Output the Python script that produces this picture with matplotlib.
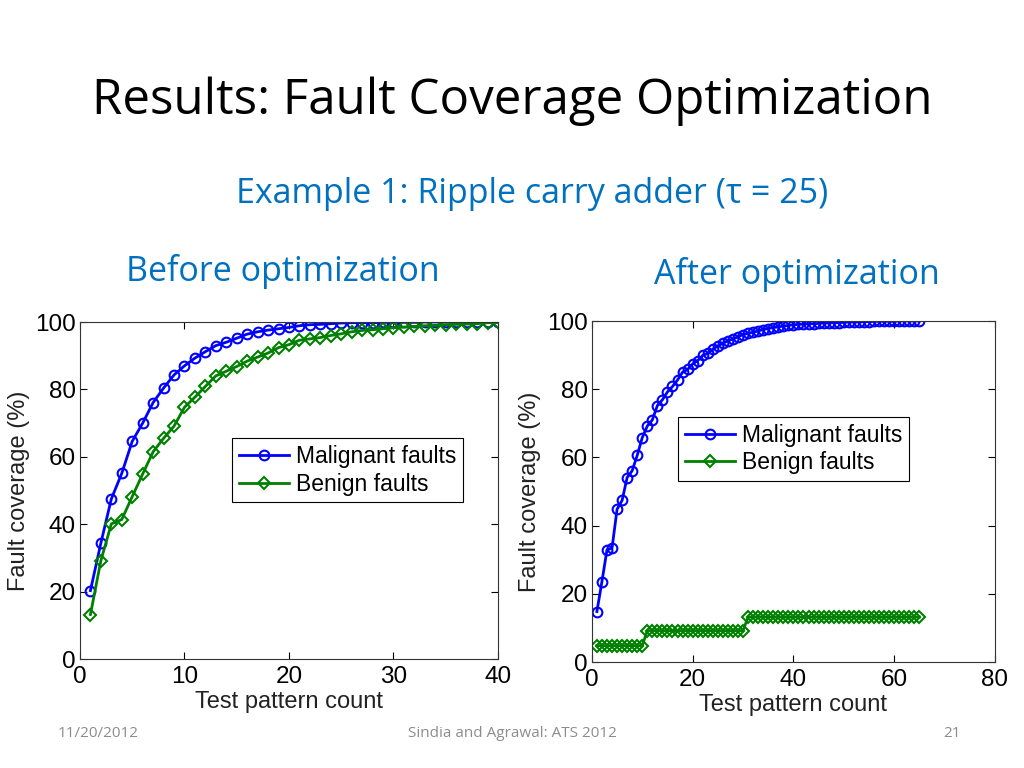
import matplotlib
matplotlib.use("Agg")
import matplotlib.pyplot as plt

# before optimization (tau = 25), patterns 1..40
before_x = list(range(1, 41))
before_malignant = [20.3, 34.4, 47.5, 55.1, 64.6, 70.0, 76.1, 80.4, 84.3, 87.0,
                    89.3, 91.2, 93.0, 94.0, 95.2, 96.4, 97.1, 97.6, 98.0, 98.4,
                    98.9, 99.2, 99.3, 99.5, 99.7, 99.8, 99.8, 99.8, 99.9, 99.9,
                    99.9, 99.9, 100, 100, 100, 100, 100, 100, 100, 100]
before_benign = [13.2, 29.2, 40.1, 41.4, 48.2, 54.9, 61.5, 65.5, 69.1, 74.7,
                 77.7, 80.9, 84.0, 85.4, 86.8, 88.4, 89.6, 90.8, 92.4, 93.3,
                 94.6, 95.0, 95.4, 96.0, 96.5, 97.1, 97.5, 97.7, 98.0, 98.3,
                 98.5, 98.7, 98.9, 99.0, 99.2, 99.3, 99.4, 99.5, 99.8, 99.9]

# after optimization, patterns 1..65
after_x = list(range(1, 66))
after_malignant = [14.8, 23.6, 32.9, 33.4, 44.8, 47.4, 54.1, 56.1, 60.6, 65.8,
                   69.2, 71.0, 75.2, 76.9, 79.2, 80.8, 82.7, 85.0, 85.8, 87.4,
                   88.4, 89.9, 90.5, 91.7, 92.7, 93.5, 94.2, 94.7, 95.4, 96.0,
                   96.4, 96.7, 97.1, 97.5, 97.8, 98.1, 98.3, 98.5, 98.7, 98.9,
                   99.0, 99.1, 99.2, 99.2, 99.3, 99.4, 99.4, 99.5, 99.5, 99.6,
                   99.7, 99.7, 99.7, 99.8, 99.8, 99.9, 99.9, 99.9, 99.9, 99.9,
                   100, 100, 100, 100, 100]
after_benign = [4.8] * 10 + [9.2] * 20 + [13.2] * 35

blue = (0, 0, 1)
green = (0, 0.5, 0)
slide_blue = "#0070C0"
chart_font = "Liberation Sans"
slide_font = "Open Sans"


def draw_panel(ax, x, mal, ben, xmax, xstep, leg_center):
    ax.plot(x, mal, '-o', color=blue, lw=2, ms=7, mfc='none', mew=1.5,
            label='Malignant faults')
    ax.plot(x, ben, '-D', color=green, lw=2, ms=6, mfc='none', mew=1.5,
            label='Benign faults')
    ax.set_xlim(0, xmax)
    ax.set_ylim(0, 100)
    ax.set_xticks(range(0, xmax + 1, xstep))
    ax.set_yticks(range(0, 101, 20))
    ax.tick_params(direction='in', top=True, right=True, labelsize=17.5,
                   length=5)
    ax.tick_params(axis='x', pad=5)
    ax.tick_params(axis='y', pad=3)
    for lab in ax.get_xticklabels() + ax.get_yticklabels():
        lab.set_family(chart_font)
    for s in ax.spines.values():
        s.set_linewidth(0.8)
        s.set_color('#333333')
    ax.set_xlabel('Test pattern count', fontsize=17, family=chart_font,
                  labelpad=2, color='#222222')
    ax.set_ylabel('Fault coverage (%)', fontsize=17, family=chart_font,
                  labelpad=4, color='#222222')
    leg = ax.legend(loc='center', bbox_to_anchor=leg_center, fancybox=False,
                    edgecolor='black', framealpha=1, handlelength=2.2,
                    handletextpad=0.3, borderpad=0.3, labelspacing=0.2,
                    prop={'family': chart_font, 'size': 16.5})
    leg.get_frame().set_linewidth(0.8)


fig = plt.figure(figsize=(10.24, 7.68), dpi=100)

fig.text(0.09, 0.868, 'Results: Fault Coverage Optimization', fontsize=35.5,
         family=slide_font, ha='left', va='center')
fig.text(0.52, 0.747, 'Example 1: Ripple carry adder (\u03c4 = 25)',
         fontsize=24.5, family=slide_font, color=slide_blue, ha='center',
         va='center')
fig.text(0.276, 0.646, 'Before optimization', fontsize=24.5, family=slide_font,
         color=slide_blue, ha='center', va='center')
fig.text(0.778, 0.642, 'After optimization', fontsize=24.5, family=slide_font,
         color=slide_blue, ha='center', va='center')

ax1 = fig.add_axes([0.0781, 0.1419, 0.4082, 0.4388])
draw_panel(ax1, before_x, before_malignant, before_benign, 40, 10, (0.64, 0.56))

ax2 = fig.add_axes([0.578, 0.138, 0.3936, 0.444])
draw_panel(ax2, after_x, after_malignant, after_benign, 80, 20, (0.50, 0.625))

grey = '#8C8C8C'
fig.text(0.056, 0.045, '11/20/2012', fontsize=11, family=slide_font,
         color=grey, ha='left', va='center')
fig.text(0.5, 0.045, 'Sindia and Agrawal: ATS 2012', fontsize=11,
         family=slide_font, color=grey, ha='center', va='center')
fig.text(0.938, 0.045, '21', fontsize=11, family=slide_font, color=grey,
         ha='right', va='center')

fig.savefig('out.png', dpi=100)
